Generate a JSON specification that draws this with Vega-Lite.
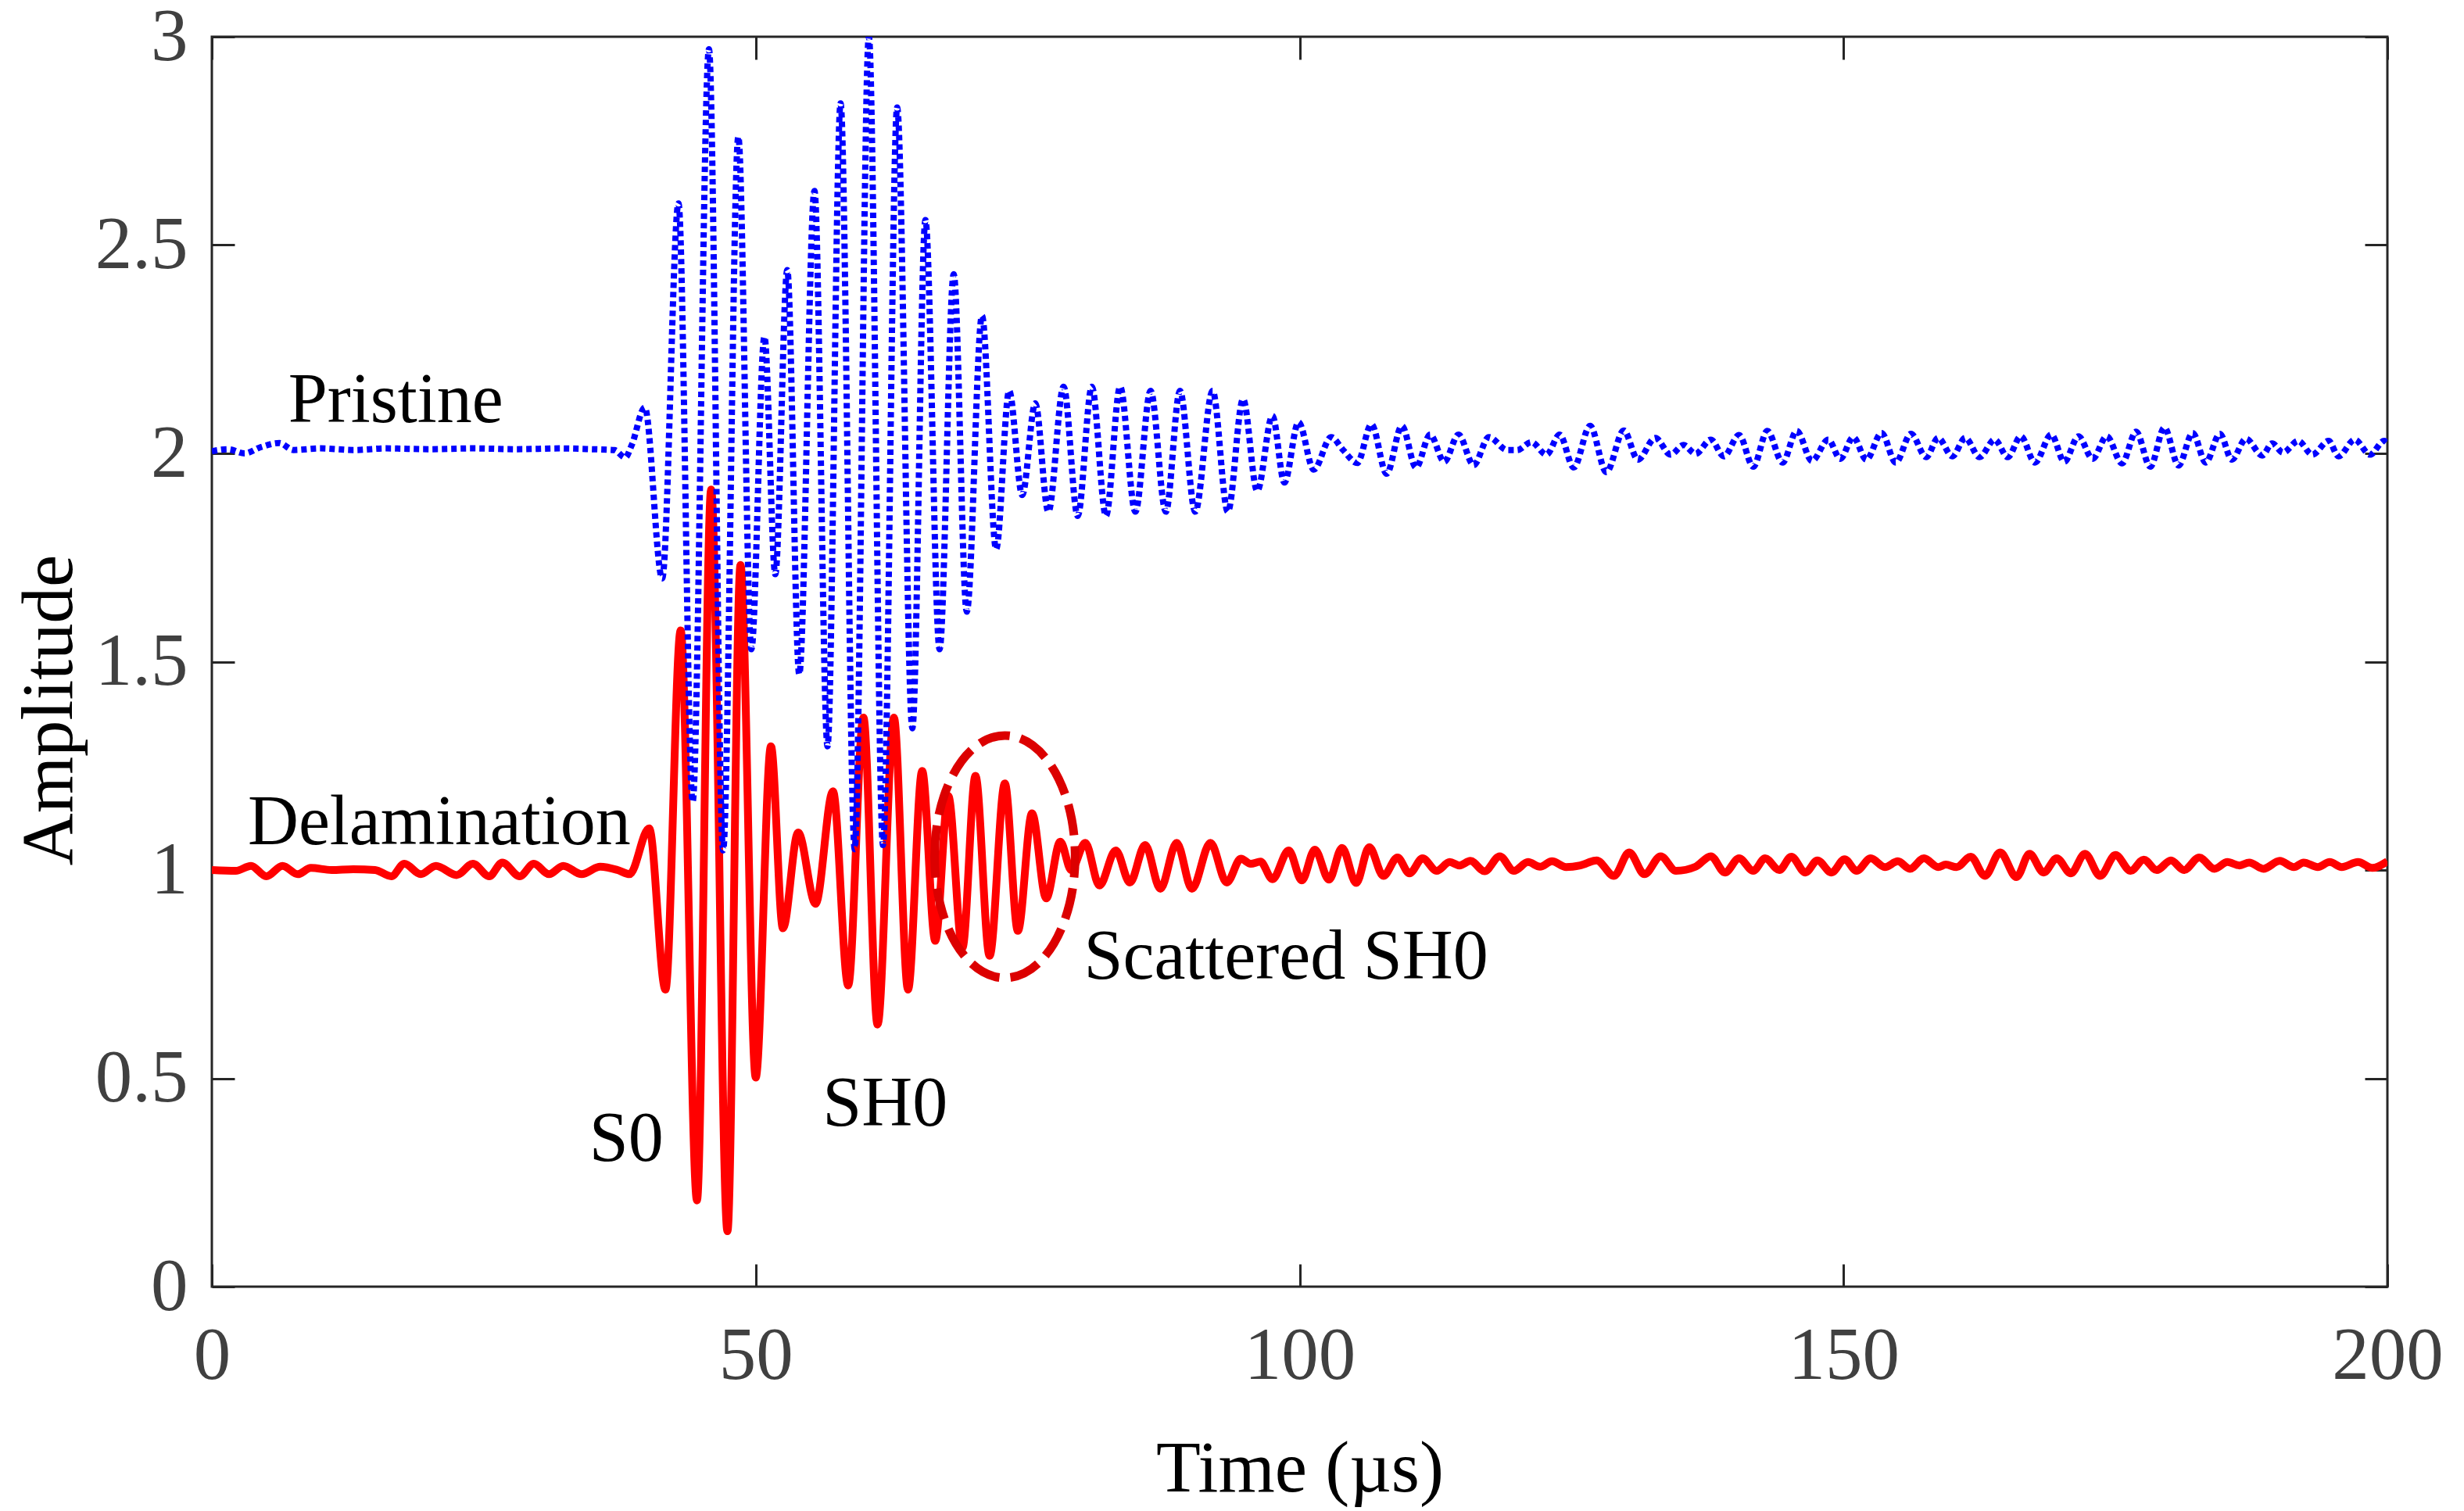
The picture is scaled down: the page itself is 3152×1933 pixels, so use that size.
{
  "$schema": "https://vega.github.io/schema/vega-lite/v6.json",
  "width": 2783,
  "height": 1599,
  "autosize": {"type": "none"},
  "padding": {"left": 271, "top": 47, "right": 98, "bottom": 287},
  "background": "white",
  "config": {
    "view": {"stroke": "#262626", "strokeWidth": 3},
    "font": "Liberation Serif",
    "axis": {
      "grid": false,
      "domain": false,
      "tickColor": "#262626",
      "tickWidth": 3,
      "tickSize": -29,
      "labelFont": "Liberation Serif",
      "labelFontSize": 95,
      "labelColor": "#404040",
      "labelFlush": false,
      "labelOverlap": false,
      "titleFont": "Liberation Serif",
      "titleFontSize": 93,
      "titleFontWeight": "normal",
      "titleColor": "black"
    }
  },
  "datasets": {
    "signals": [
      {"t": 0, "a": 2.005, "s": "Pristine"},
      {"t": 1.5, "a": 2.01, "s": "Pristine"},
      {"t": 3.0, "a": 2.0, "s": "Pristine"},
      {"t": 4.5, "a": 2.015, "s": "Pristine"},
      {"t": 6.2, "a": 2.025, "s": "Pristine"},
      {"t": 7.5, "a": 2.008, "s": "Pristine"},
      {"t": 10, "a": 2.012, "s": "Pristine"},
      {"t": 13, "a": 2.008, "s": "Pristine"},
      {"t": 16, "a": 2.012, "s": "Pristine"},
      {"t": 20, "a": 2.01, "s": "Pristine"},
      {"t": 24, "a": 2.012, "s": "Pristine"},
      {"t": 28, "a": 2.01, "s": "Pristine"},
      {"t": 32, "a": 2.012, "s": "Pristine"},
      {"t": 35, "a": 2.01, "s": "Pristine"},
      {"t": 37, "a": 2.008, "s": "Pristine"},
      {"t": 38.0, "a": 1.99, "s": "Pristine"},
      {"t": 38.6, "a": 2.02, "s": "Pristine"},
      {"t": 39.8, "a": 2.11, "s": "Pristine"},
      {"t": 41.4, "a": 1.70, "s": "Pristine"},
      {"t": 42.9, "a": 2.60, "s": "Pristine"},
      {"t": 44.2, "a": 1.164, "s": "Pristine"},
      {"t": 45.7, "a": 2.97, "s": "Pristine"},
      {"t": 47.0, "a": 1.047, "s": "Pristine"},
      {"t": 48.4, "a": 2.76, "s": "Pristine"},
      {"t": 49.6, "a": 1.53, "s": "Pristine"},
      {"t": 50.8, "a": 2.28, "s": "Pristine"},
      {"t": 51.8, "a": 1.71, "s": "Pristine"},
      {"t": 52.9, "a": 2.44, "s": "Pristine"},
      {"t": 54.0, "a": 1.47, "s": "Pristine"},
      {"t": 55.4, "a": 2.63, "s": "Pristine"},
      {"t": 56.6, "a": 1.297, "s": "Pristine"},
      {"t": 57.8, "a": 2.84, "s": "Pristine"},
      {"t": 59.1, "a": 1.05, "s": "Pristine"},
      {"t": 60.4, "a": 3.0, "s": "Pristine"},
      {"t": 61.7, "a": 1.06, "s": "Pristine"},
      {"t": 63.0, "a": 2.83, "s": "Pristine"},
      {"t": 64.4, "a": 1.34, "s": "Pristine"},
      {"t": 65.6, "a": 2.56, "s": "Pristine"},
      {"t": 66.9, "a": 1.53, "s": "Pristine"},
      {"t": 68.2, "a": 2.43, "s": "Pristine"},
      {"t": 69.4, "a": 1.62, "s": "Pristine"},
      {"t": 70.8, "a": 2.33, "s": "Pristine"},
      {"t": 72.1, "a": 1.77, "s": "Pristine"},
      {"t": 73.3, "a": 2.15, "s": "Pristine"},
      {"t": 74.5, "a": 1.90, "s": "Pristine"},
      {"t": 75.7, "a": 2.12, "s": "Pristine"},
      {"t": 76.9, "a": 1.86, "s": "Pristine"},
      {"t": 78.3, "a": 2.16, "s": "Pristine"},
      {"t": 79.6, "a": 1.85, "s": "Pristine"},
      {"t": 80.9, "a": 2.16, "s": "Pristine"},
      {"t": 82.2, "a": 1.85, "s": "Pristine"},
      {"t": 83.5, "a": 2.16, "s": "Pristine"},
      {"t": 84.9, "a": 1.86, "s": "Pristine"},
      {"t": 86.3, "a": 2.15, "s": "Pristine"},
      {"t": 87.7, "a": 1.86, "s": "Pristine"},
      {"t": 89.0, "a": 2.15, "s": "Pristine"},
      {"t": 90.4, "a": 1.86, "s": "Pristine"},
      {"t": 92.0, "a": 2.15, "s": "Pristine"},
      {"t": 93.4, "a": 1.86, "s": "Pristine"},
      {"t": 94.8, "a": 2.13, "s": "Pristine"},
      {"t": 96.1, "a": 1.91, "s": "Pristine"},
      {"t": 97.5, "a": 2.09, "s": "Pristine"},
      {"t": 98.6, "a": 1.93, "s": "Pristine"},
      {"t": 99.9, "a": 2.075, "s": "Pristine"},
      {"t": 101.3, "a": 1.961, "s": "Pristine"},
      {"t": 102.9, "a": 2.039, "s": "Pristine"},
      {"t": 104.0, "a": 2.008, "s": "Pristine"},
      {"t": 105.3, "a": 1.977, "s": "Pristine"},
      {"t": 106.6, "a": 2.070, "s": "Pristine"},
      {"t": 108.0, "a": 1.951, "s": "Pristine"},
      {"t": 109.4, "a": 2.066, "s": "Pristine"},
      {"t": 110.7, "a": 1.966, "s": "Pristine"},
      {"t": 112.0, "a": 2.045, "s": "Pristine"},
      {"t": 113.3, "a": 1.980, "s": "Pristine"},
      {"t": 114.6, "a": 2.045, "s": "Pristine"},
      {"t": 116.0, "a": 1.972, "s": "Pristine"},
      {"t": 117.4, "a": 2.039, "s": "Pristine"},
      {"t": 119.1, "a": 2.008, "s": "Pristine"},
      {"t": 120.0, "a": 2.008, "s": "Pristine"},
      {"t": 121.3, "a": 2.027, "s": "Pristine"},
      {"t": 122.7, "a": 1.997, "s": "Pristine"},
      {"t": 123.9, "a": 2.045, "s": "Pristine"},
      {"t": 125.2, "a": 1.966, "s": "Pristine"},
      {"t": 126.7, "a": 2.066, "s": "Pristine"},
      {"t": 128.2, "a": 1.955, "s": "Pristine"},
      {"t": 129.8, "a": 2.055, "s": "Pristine"},
      {"t": 131.1, "a": 1.985, "s": "Pristine"},
      {"t": 132.7, "a": 2.037, "s": "Pristine"},
      {"t": 134.1, "a": 1.997, "s": "Pristine"},
      {"t": 135.3, "a": 2.020, "s": "Pristine"},
      {"t": 136.4, "a": 1.999, "s": "Pristine"},
      {"t": 137.8, "a": 2.033, "s": "Pristine"},
      {"t": 139.0, "a": 1.993, "s": "Pristine"},
      {"t": 140.4, "a": 2.044, "s": "Pristine"},
      {"t": 141.7, "a": 1.968, "s": "Pristine"},
      {"t": 143.0, "a": 2.054, "s": "Pristine"},
      {"t": 144.4, "a": 1.978, "s": "Pristine"},
      {"t": 145.7, "a": 2.054, "s": "Pristine"},
      {"t": 147.1, "a": 1.982, "s": "Pristine"},
      {"t": 148.6, "a": 2.033, "s": "Pristine"},
      {"t": 149.7, "a": 1.987, "s": "Pristine"},
      {"t": 150.9, "a": 2.039, "s": "Pristine"},
      {"t": 152.1, "a": 1.985, "s": "Pristine"},
      {"t": 153.5, "a": 2.049, "s": "Pristine"},
      {"t": 154.8, "a": 1.978, "s": "Pristine"},
      {"t": 156.2, "a": 2.047, "s": "Pristine"},
      {"t": 157.6, "a": 1.991, "s": "Pristine"},
      {"t": 158.7, "a": 2.037, "s": "Pristine"},
      {"t": 160.0, "a": 1.993, "s": "Pristine"},
      {"t": 161.2, "a": 2.037, "s": "Pristine"},
      {"t": 162.5, "a": 1.991, "s": "Pristine"},
      {"t": 163.9, "a": 2.033, "s": "Pristine"},
      {"t": 165.1, "a": 1.991, "s": "Pristine"},
      {"t": 166.3, "a": 2.041, "s": "Pristine"},
      {"t": 167.6, "a": 1.978, "s": "Pristine"},
      {"t": 169.1, "a": 2.045, "s": "Pristine"},
      {"t": 170.3, "a": 1.980, "s": "Pristine"},
      {"t": 171.6, "a": 2.041, "s": "Pristine"},
      {"t": 172.9, "a": 1.987, "s": "Pristine"},
      {"t": 174.2, "a": 2.041, "s": "Pristine"},
      {"t": 175.6, "a": 1.976, "s": "Pristine"},
      {"t": 176.9, "a": 2.052, "s": "Pristine"},
      {"t": 178.2, "a": 1.968, "s": "Pristine"},
      {"t": 179.5, "a": 2.062, "s": "Pristine"},
      {"t": 180.8, "a": 1.971, "s": "Pristine"},
      {"t": 182.1, "a": 2.049, "s": "Pristine"},
      {"t": 183.3, "a": 1.978, "s": "Pristine"},
      {"t": 184.6, "a": 2.047, "s": "Pristine"},
      {"t": 185.7, "a": 1.985, "s": "Pristine"},
      {"t": 187.0, "a": 2.035, "s": "Pristine"},
      {"t": 188.5, "a": 1.995, "s": "Pristine"},
      {"t": 189.4, "a": 2.024, "s": "Pristine"},
      {"t": 190.4, "a": 2.002, "s": "Pristine"},
      {"t": 191.8, "a": 2.030, "s": "Pristine"},
      {"t": 193.1, "a": 1.997, "s": "Pristine"},
      {"t": 194.6, "a": 2.030, "s": "Pristine"},
      {"t": 195.5, "a": 1.993, "s": "Pristine"},
      {"t": 197.0, "a": 2.033, "s": "Pristine"},
      {"t": 198.4, "a": 1.997, "s": "Pristine"},
      {"t": 199.7, "a": 2.030, "s": "Pristine"},
      {"t": 200, "a": 2.025, "s": "Pristine"},

      {"t": 0, "a": 1.0, "s": "Delamination"},
      {"t": 2.2, "a": 0.998, "s": "Delamination"},
      {"t": 3.6, "a": 1.01, "s": "Delamination"},
      {"t": 5.0, "a": 0.985, "s": "Delamination"},
      {"t": 6.5, "a": 1.01, "s": "Delamination"},
      {"t": 7.9, "a": 0.99, "s": "Delamination"},
      {"t": 9.1, "a": 1.005, "s": "Delamination"},
      {"t": 11, "a": 1.0, "s": "Delamination"},
      {"t": 13, "a": 1.002, "s": "Delamination"},
      {"t": 15, "a": 1.0, "s": "Delamination"},
      {"t": 16.5, "a": 0.985, "s": "Delamination"},
      {"t": 17.7, "a": 1.015, "s": "Delamination"},
      {"t": 19.2, "a": 0.99, "s": "Delamination"},
      {"t": 20.6, "a": 1.01, "s": "Delamination"},
      {"t": 22.5, "a": 0.988, "s": "Delamination"},
      {"t": 24.0, "a": 1.015, "s": "Delamination"},
      {"t": 25.5, "a": 0.985, "s": "Delamination"},
      {"t": 26.7, "a": 1.018, "s": "Delamination"},
      {"t": 28.3, "a": 0.985, "s": "Delamination"},
      {"t": 29.6, "a": 1.015, "s": "Delamination"},
      {"t": 31.0, "a": 0.99, "s": "Delamination"},
      {"t": 32.3, "a": 1.01, "s": "Delamination"},
      {"t": 34.0, "a": 0.99, "s": "Delamination"},
      {"t": 35.7, "a": 1.008, "s": "Delamination"},
      {"t": 37.3, "a": 1.0, "s": "Delamination"},
      {"t": 38.4, "a": 0.99, "s": "Delamination"},
      {"t": 40.2, "a": 1.10, "s": "Delamination"},
      {"t": 41.7, "a": 0.713, "s": "Delamination"},
      {"t": 43.1, "a": 1.575, "s": "Delamination"},
      {"t": 44.6, "a": 0.207, "s": "Delamination"},
      {"t": 45.9, "a": 1.913, "s": "Delamination"},
      {"t": 47.4, "a": 0.133, "s": "Delamination"},
      {"t": 48.6, "a": 1.732, "s": "Delamination"},
      {"t": 50.0, "a": 0.502, "s": "Delamination"},
      {"t": 51.4, "a": 1.297, "s": "Delamination"},
      {"t": 52.5, "a": 0.86, "s": "Delamination"},
      {"t": 53.9, "a": 1.09, "s": "Delamination"},
      {"t": 55.5, "a": 0.919, "s": "Delamination"},
      {"t": 57.1, "a": 1.189, "s": "Delamination"},
      {"t": 58.5, "a": 0.723, "s": "Delamination"},
      {"t": 59.9, "a": 1.366, "s": "Delamination"},
      {"t": 61.2, "a": 0.629, "s": "Delamination"},
      {"t": 62.7, "a": 1.366, "s": "Delamination"},
      {"t": 64.0, "a": 0.713, "s": "Delamination"},
      {"t": 65.3, "a": 1.238, "s": "Delamination"},
      {"t": 66.5, "a": 0.83, "s": "Delamination"},
      {"t": 67.7, "a": 1.178, "s": "Delamination"},
      {"t": 69.0, "a": 0.813, "s": "Delamination"},
      {"t": 70.2, "a": 1.226, "s": "Delamination"},
      {"t": 71.5, "a": 0.794, "s": "Delamination"},
      {"t": 72.9, "a": 1.208, "s": "Delamination"},
      {"t": 74.1, "a": 0.854, "s": "Delamination"},
      {"t": 75.4, "a": 1.136, "s": "Delamination"},
      {"t": 76.7, "a": 0.932, "s": "Delamination"},
      {"t": 78.0, "a": 1.068, "s": "Delamination"},
      {"t": 79.0, "a": 1.0, "s": "Delamination"},
      {"t": 80.3, "a": 1.065, "s": "Delamination"},
      {"t": 81.6, "a": 0.963, "s": "Delamination"},
      {"t": 83.1, "a": 1.047, "s": "Delamination"},
      {"t": 84.4, "a": 0.97, "s": "Delamination"},
      {"t": 85.8, "a": 1.06, "s": "Delamination"},
      {"t": 87.2, "a": 0.955, "s": "Delamination"},
      {"t": 88.7, "a": 1.065, "s": "Delamination"},
      {"t": 90.1, "a": 0.955, "s": "Delamination"},
      {"t": 91.8, "a": 1.065, "s": "Delamination"},
      {"t": 93.3, "a": 0.97, "s": "Delamination"},
      {"t": 94.6, "a": 1.027, "s": "Delamination"},
      {"t": 95.5, "a": 1.015, "s": "Delamination"},
      {"t": 96.4, "a": 1.02, "s": "Delamination"},
      {"t": 97.5, "a": 0.978, "s": "Delamination"},
      {"t": 99.0, "a": 1.047, "s": "Delamination"},
      {"t": 100.2, "a": 0.975, "s": "Delamination"},
      {"t": 101.4, "a": 1.049, "s": "Delamination"},
      {"t": 102.7, "a": 0.977, "s": "Delamination"},
      {"t": 103.9, "a": 1.053, "s": "Delamination"},
      {"t": 105.2, "a": 0.969, "s": "Delamination"},
      {"t": 106.4, "a": 1.055, "s": "Delamination"},
      {"t": 107.7, "a": 0.986, "s": "Delamination"},
      {"t": 109.0, "a": 1.030, "s": "Delamination"},
      {"t": 110.1, "a": 0.992, "s": "Delamination"},
      {"t": 111.3, "a": 1.028, "s": "Delamination"},
      {"t": 112.6, "a": 0.998, "s": "Delamination"},
      {"t": 113.8, "a": 1.019, "s": "Delamination"},
      {"t": 114.7, "a": 1.011, "s": "Delamination"},
      {"t": 115.7, "a": 1.022, "s": "Delamination"},
      {"t": 117.0, "a": 0.997, "s": "Delamination"},
      {"t": 118.4, "a": 1.033, "s": "Delamination"},
      {"t": 119.7, "a": 0.998, "s": "Delamination"},
      {"t": 121.0, "a": 1.019, "s": "Delamination"},
      {"t": 122.1, "a": 1.008, "s": "Delamination"},
      {"t": 123.2, "a": 1.021, "s": "Delamination"},
      {"t": 124.5, "a": 1.007, "s": "Delamination"},
      {"t": 125.8, "a": 1.011, "s": "Delamination"},
      {"t": 127.3, "a": 1.023, "s": "Delamination"},
      {"t": 128.9, "a": 0.986, "s": "Delamination"},
      {"t": 130.3, "a": 1.042, "s": "Delamination"},
      {"t": 131.7, "a": 0.990, "s": "Delamination"},
      {"t": 133.2, "a": 1.033, "s": "Delamination"},
      {"t": 134.6, "a": 0.998, "s": "Delamination"},
      {"t": 136.4, "a": 1.008, "s": "Delamination"},
      {"t": 137.8, "a": 1.033, "s": "Delamination"},
      {"t": 139.1, "a": 0.994, "s": "Delamination"},
      {"t": 140.4, "a": 1.028, "s": "Delamination"},
      {"t": 141.7, "a": 0.998, "s": "Delamination"},
      {"t": 142.8, "a": 1.028, "s": "Delamination"},
      {"t": 144.1, "a": 1.000, "s": "Delamination"},
      {"t": 145.2, "a": 1.032, "s": "Delamination"},
      {"t": 146.5, "a": 0.994, "s": "Delamination"},
      {"t": 147.6, "a": 1.023, "s": "Delamination"},
      {"t": 148.9, "a": 0.994, "s": "Delamination"},
      {"t": 150.1, "a": 1.026, "s": "Delamination"},
      {"t": 151.2, "a": 0.998, "s": "Delamination"},
      {"t": 152.5, "a": 1.028, "s": "Delamination"},
      {"t": 153.8, "a": 1.007, "s": "Delamination"},
      {"t": 155.0, "a": 1.021, "s": "Delamination"},
      {"t": 156.1, "a": 1.003, "s": "Delamination"},
      {"t": 157.4, "a": 1.028, "s": "Delamination"},
      {"t": 158.7, "a": 1.007, "s": "Delamination"},
      {"t": 159.4, "a": 1.013, "s": "Delamination"},
      {"t": 160.4, "a": 1.007, "s": "Delamination"},
      {"t": 161.7, "a": 1.032, "s": "Delamination"},
      {"t": 163.0, "a": 0.986, "s": "Delamination"},
      {"t": 164.4, "a": 1.042, "s": "Delamination"},
      {"t": 165.9, "a": 0.983, "s": "Delamination"},
      {"t": 167.1, "a": 1.039, "s": "Delamination"},
      {"t": 168.4, "a": 0.994, "s": "Delamination"},
      {"t": 169.6, "a": 1.028, "s": "Delamination"},
      {"t": 170.9, "a": 0.992, "s": "Delamination"},
      {"t": 172.2, "a": 1.039, "s": "Delamination"},
      {"t": 173.6, "a": 0.986, "s": "Delamination"},
      {"t": 175.0, "a": 1.036, "s": "Delamination"},
      {"t": 176.4, "a": 0.998, "s": "Delamination"},
      {"t": 177.6, "a": 1.025, "s": "Delamination"},
      {"t": 178.8, "a": 1.000, "s": "Delamination"},
      {"t": 180.1, "a": 1.023, "s": "Delamination"},
      {"t": 181.3, "a": 1.000, "s": "Delamination"},
      {"t": 182.7, "a": 1.030, "s": "Delamination"},
      {"t": 184.1, "a": 1.003, "s": "Delamination"},
      {"t": 185.3, "a": 1.019, "s": "Delamination"},
      {"t": 186.4, "a": 1.011, "s": "Delamination"},
      {"t": 187.3, "a": 1.018, "s": "Delamination"},
      {"t": 188.6, "a": 1.003, "s": "Delamination"},
      {"t": 190.1, "a": 1.022, "s": "Delamination"},
      {"t": 191.4, "a": 1.007, "s": "Delamination"},
      {"t": 192.3, "a": 1.018, "s": "Delamination"},
      {"t": 193.6, "a": 1.007, "s": "Delamination"},
      {"t": 194.7, "a": 1.019, "s": "Delamination"},
      {"t": 195.8, "a": 1.007, "s": "Delamination"},
      {"t": 197.3, "a": 1.019, "s": "Delamination"},
      {"t": 198.6, "a": 1.005, "s": "Delamination"},
      {"t": 200, "a": 1.021, "s": "Delamination"}
    ],
    "notes": [
      {"t": 16.9, "a": 2.075, "label": "Pristine"},
      {"t": 20.9, "a": 1.062, "label": "Delamination"},
      {"t": 38.1, "a": 0.302, "label": "S0"},
      {"t": 61.9, "a": 0.387, "label": "SH0"},
      {"t": 98.75, "a": 0.739, "label": "Scattered SH0"}
    ],
    "mark_area": [
      {"t": 72.9, "a": 1.032}
    ]
  },
  "resolve": {"axis": {"x": "independent", "y": "independent"}},
  "layer": [
    {
      "data": {"name": "signals"},
      "transform": [{"filter": "datum.s === 'Delamination'"}],
      "mark": {"type": "line", "color": "#ff0000", "strokeWidth": 10, "interpolate": "monotone", "clip": true},
      "encoding": {
        "x": {
          "field": "t", "type": "quantitative",
          "scale": {"domain": [0, 200], "nice": false, "zero": false},
          "axis": {
            "orient": "bottom",
            "values": [0, 50, 100, 150, 200],
            "labelPadding": 71,
            "title": "Time (µs)",
            "titleY": 261,
            "titleBaseline": "alphabetic"
          }
        },
        "y": {
          "field": "a", "type": "quantitative",
          "scale": {"domain": [0, 3], "nice": false, "zero": false},
          "axis": {
            "orient": "left",
            "values": [0, 0.5, 1, 1.5, 2, 2.5, 3],
            "format": "~g",
            "labelPadding": 60,
            "title": "Amplitude",
            "titleAngle": 270,
            "titleX": -180,
            "titleY": 861,
            "titleBaseline": "alphabetic"
          }
        }
      }
    },
    {
      "data": {"name": "mark_area"},
      "mark": {
        "type": "point",
        "shape": "M -0.58 0 A 0.58 1 0 1 1 0.58 0 A 0.58 1 0 1 1 -0.58 0 Z",
        "size": 96100,
        "filled": false,
        "stroke": "#dc0000",
        "strokeWidth": 11,
        "strokeDash": [40, 14],
        "opacity": 1
      },
      "encoding": {
        "x": {"field": "t", "type": "quantitative", "axis": null},
        "y": {"field": "a", "type": "quantitative", "axis": null}
      }
    },
    {
      "data": {"name": "signals"},
      "transform": [{"filter": "datum.s === 'Pristine'"}],
      "mark": {"type": "line", "color": "#0000ff", "strokeWidth": 8, "strokeDash": [7, 5], "strokeCap": "butt", "interpolate": "monotone", "clip": true},
      "encoding": {
        "x": {
          "field": "t", "type": "quantitative",
          "axis": {"orient": "top", "values": [0, 50, 100, 150, 200], "labels": false, "title": null}
        },
        "y": {
          "field": "a", "type": "quantitative",
          "axis": {"orient": "right", "values": [0, 0.5, 1, 1.5, 2, 2.5, 3], "labels": false, "title": null}
        }
      }
    },
    {
      "data": {"name": "notes"},
      "mark": {"type": "text", "font": "Liberation Serif", "fontSize": 90, "color": "black", "align": "center", "baseline": "alphabetic"},
      "encoding": {
        "x": {"field": "t", "type": "quantitative", "axis": null},
        "y": {"field": "a", "type": "quantitative", "axis": null},
        "text": {"field": "label"}
      }
    }
  ]
}
